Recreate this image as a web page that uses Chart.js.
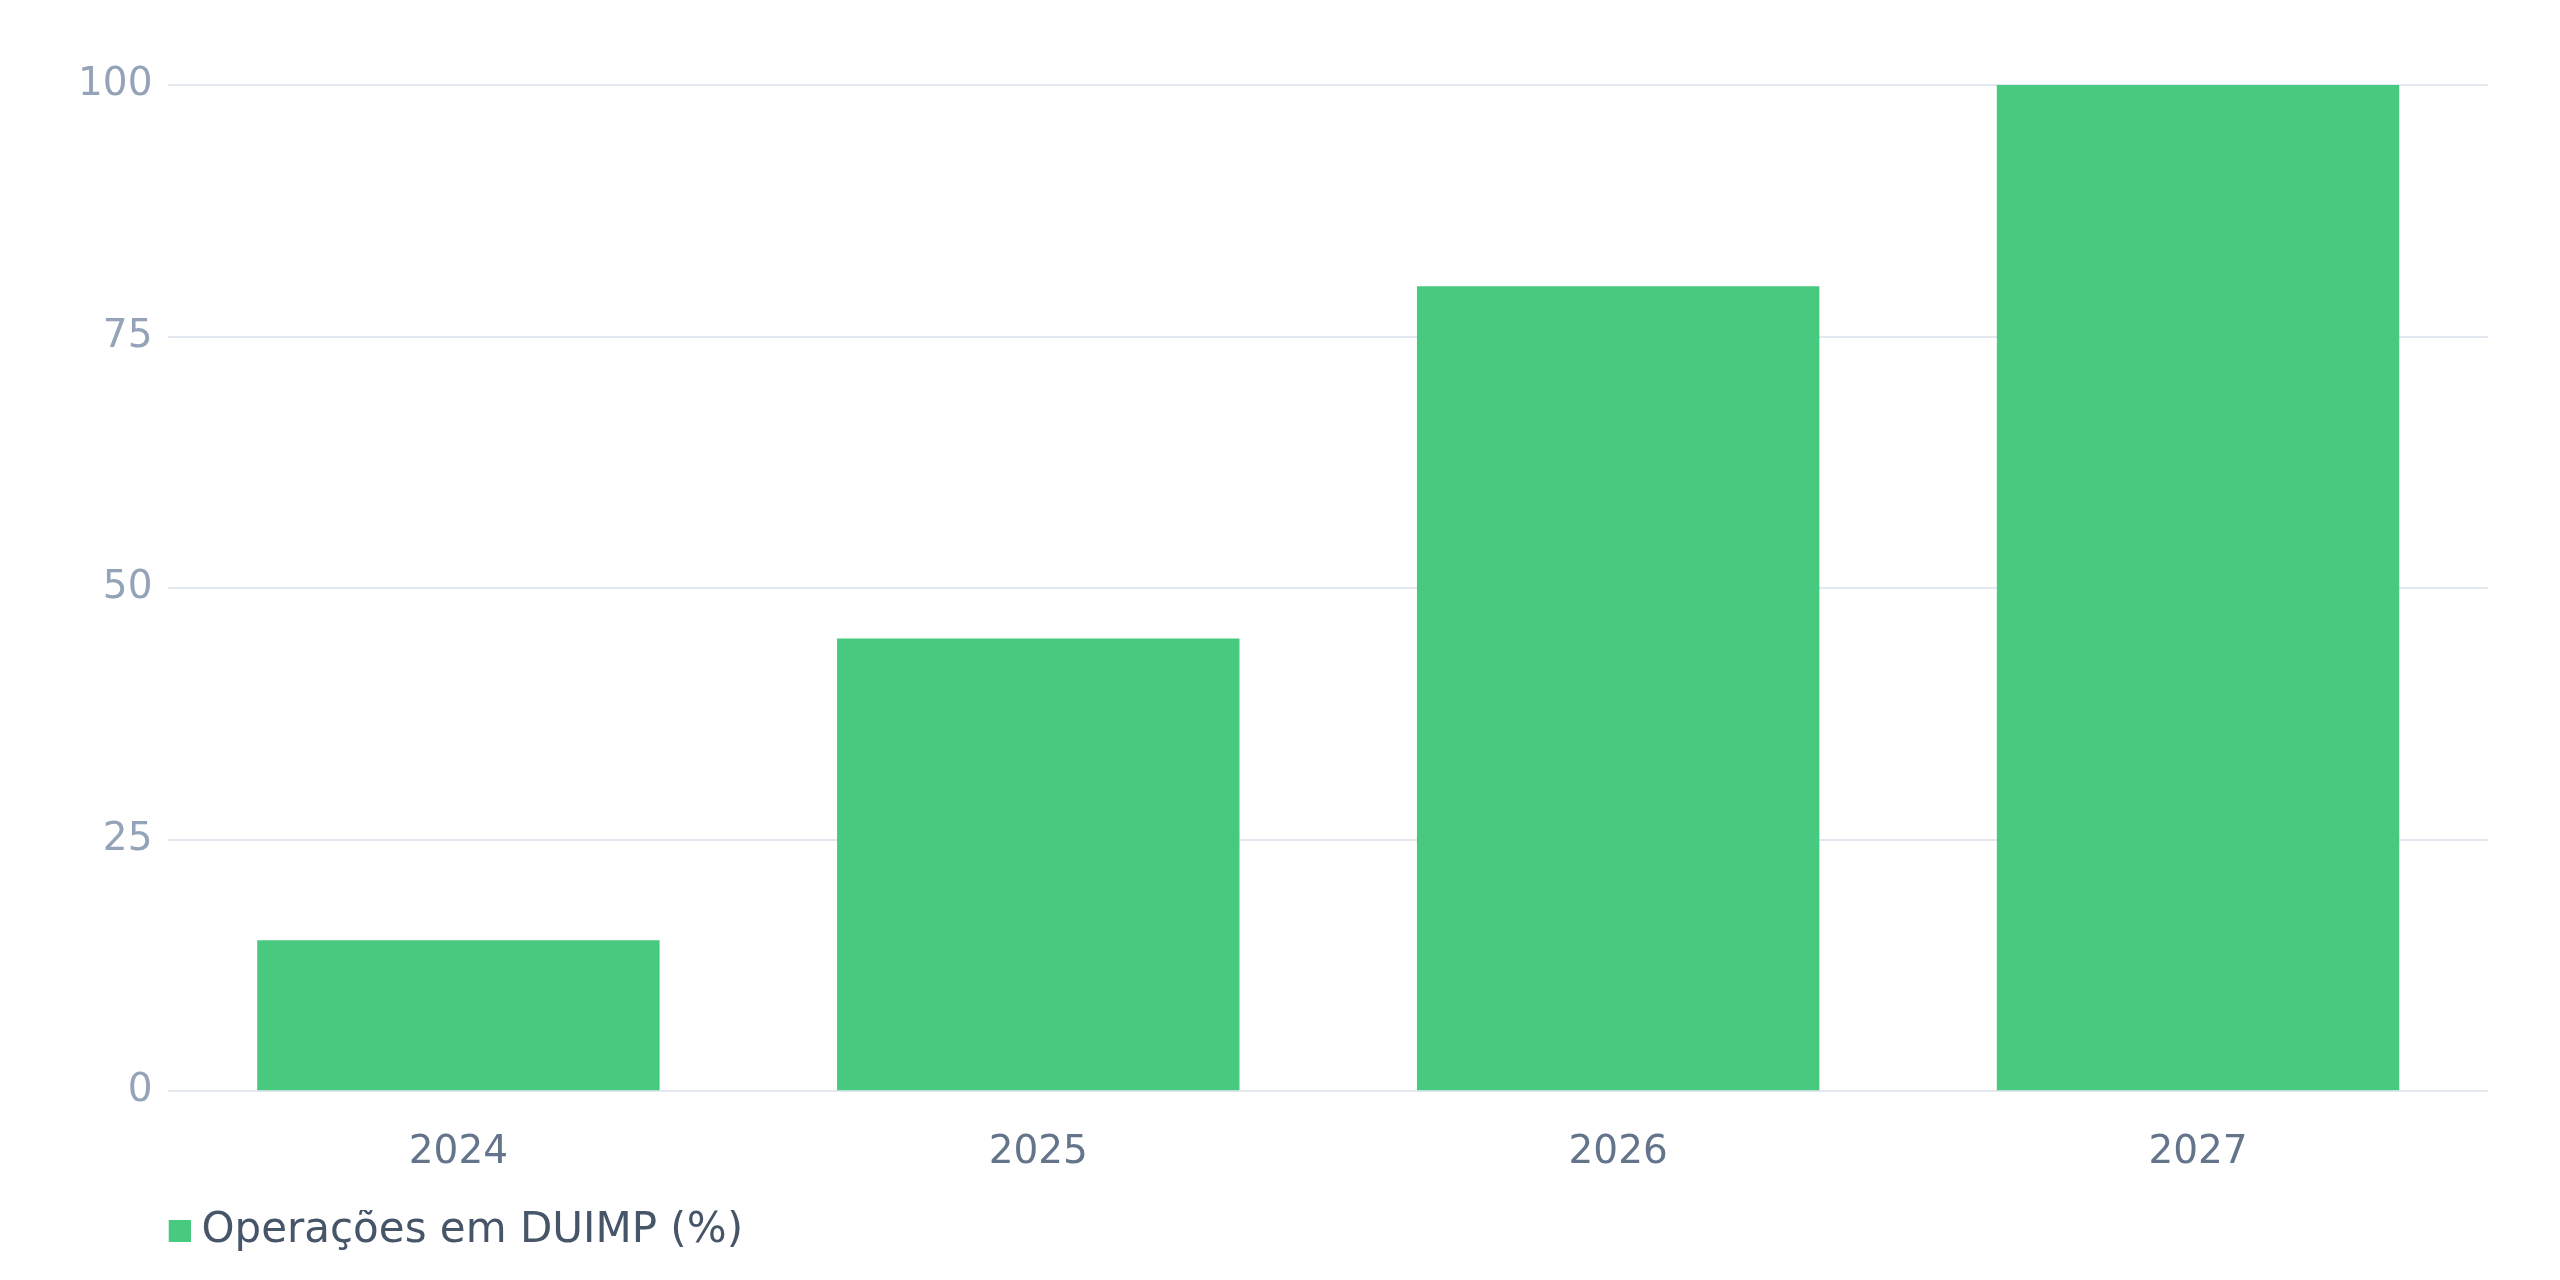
<!DOCTYPE html>
<html>
<head>
<meta charset="utf-8">
<style>
  html, body { margin: 0; padding: 0; background: #ffffff; }
  #wrap { width: 2560px; height: 1280px; }
</style>
<script src="https://cdn.jsdelivr.net/npm/chart.js@4.4.1/dist/chart.umd.min.js"></script>
</head>
<body>
<div id="wrap"><canvas id="c" width="2560" height="1280"></canvas></div>
<script>
const categories = ['2024', '2025', '2026', '2027'];
const seriesLabel = 'Operações em DUIMP (%)';
const seriesValues = [15, 45, 80, 100];
const yTicks = [0, 25, 50, 75, 100];

const FONT = "'DejaVu Sans', sans-serif";
const BAR_COLOR = '#47CA7F';

// legend marker: a 22px square placed so the text sits close to it
const marker = document.createElement('canvas');
marker.width = 34; marker.height = 22;
(function () {
  const g = marker.getContext('2d');
  g.fillStyle = BAR_COLOR;
  g.fillRect(11, 0, 23, 22);
})();

new Chart(document.getElementById('c'), {
  type: 'bar',
  data: {
    labels: categories,
    datasets: [{
      label: seriesLabel,
      data: seriesValues,
      backgroundColor: BAR_COLOR,
      borderWidth: 0,
      categoryPercentage: 1.0,
      barPercentage: 0.694
    }]
  },
  options: {
    responsive: false,
    devicePixelRatio: 1,
    animation: false,
    layout: { padding: { left: 62, right: 72, top: 85, bottom: 18 } },
    scales: {
      x: {
        grid: { display: false, drawTicks: false },
        border: { display: false },
        ticks: { color: '#64748b', font: { family: FONT, size: 39 }, padding: 38 },
        afterFit: (axis) => { axis.height -= 4; }
      },
      y: {
        min: 0,
        max: 100,
        afterBuildTicks: (axis) => { axis.ticks = yTicks.map(v => ({ value: v })); },
        grid: { color: '#e2e8f0', lineWidth: 2, drawTicks: false },
        border: { display: false },
        ticks: { color: '#94a3b8', font: { family: FONT, size: 39 }, padding: 16 }
      }
    },
    plugins: {
      legend: {
        position: 'bottom',
        align: 'start',
        fullSize: false,
        labels: {
          color: '#475569',
          font: { family: FONT, size: 42 },
          usePointStyle: true,
          pointStyle: marker,
          pointStyleWidth: 12,
          boxHeight: 22,
          padding: 0
        }
      },
      tooltip: { enabled: false }
    }
  }
});
</script>
</body>
</html>
